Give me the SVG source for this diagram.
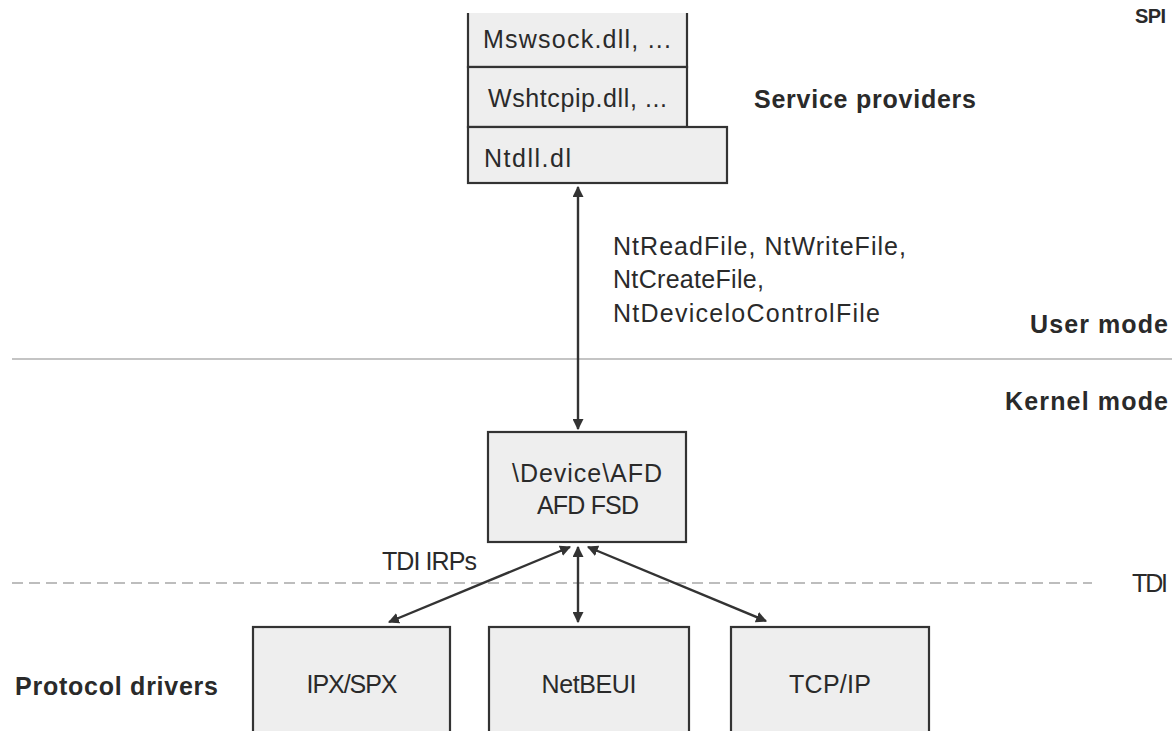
<svg xmlns="http://www.w3.org/2000/svg" width="1172" height="731" viewBox="0 0 1172 731">
<defs>
<style>
.box{fill:#eeeeee;stroke:#333333;stroke-width:2.2}
.t{font-family:"Liberation Sans",Arial,sans-serif;font-size:25px;fill:#2a2a2a}
.b{font-family:"Liberation Sans",Arial,sans-serif;font-size:25px;font-weight:bold;fill:#2a2a2a}
.c{text-anchor:middle}
.conn{stroke:#333333;stroke-width:2.4;fill:none;marker-start:url(#ah);marker-end:url(#ah)}
</style>
<marker id="ah" viewBox="0 0 10 10" refX="9" refY="5" markerWidth="11" markerHeight="11" markerUnits="userSpaceOnUse" orient="auto-start-reverse">
<path d="M0,0 L10,5 L0,10 z" fill="#333333"/>
</marker>
<clipPath id="crop"><rect x="0" y="13" width="1172" height="718"/></clipPath>
</defs>
<rect x="0" y="0" width="1172" height="731" fill="#ffffff"/>
<text class="b" x="1135" y="23" font-size="20" style="font-size:20px" textLength="31">SPI</text>
<g clip-path="url(#crop)">
<g id="mswsock">
<rect class="box" x="468" y="-10" width="219" height="77"/>
<text class="t" x="483" y="48" textLength="188">Mswsock.dll, ...</text>
</g>
<g id="wshtcpip">
<rect class="box" x="468" y="67" width="219" height="60"/>
<text class="t" x="488" y="107" textLength="179">Wshtcpip.dll, ...</text>
</g>
<g id="ntdll">
<rect class="box" x="468" y="127" width="259" height="56"/>
<text class="t" x="484" y="167" textLength="87">Ntdll.dl</text>
</g>
<text class="b" x="754" y="108" textLength="222">Service providers</text>
<text class="t" x="613" y="255" textLength="293">NtReadFile, NtWriteFile,</text>
<text class="t" x="613" y="288" textLength="151">NtCreateFile,</text>
<text class="t" x="613" y="322" textLength="267">NtDeviceloControlFile</text>
<text class="b" x="1030" y="333" textLength="138">User mode</text>
<line x1="12" y1="359" x2="1172" y2="359" stroke="#c4c4c4" stroke-width="2"/>
<text class="b" x="1005" y="410" textLength="163">Kernel mode</text>
<g id="afd">
<rect class="box" x="488" y="432" width="198" height="110"/>
<text class="t c" x="587" y="482" textLength="150">\Device\AFD</text>
<text class="t c" x="588" y="514" textLength="102">AFD FSD</text>
</g>
<text class="t" x="382" y="570" textLength="95">TDI IRPs</text>
<line x1="12" y1="583" x2="1092" y2="583" stroke="#bdbdbd" stroke-width="2" stroke-dasharray="11,6"/>
<text class="t" x="1132" y="592" textLength="36">TDI</text>
<g id="ipxspx">
<rect class="box" x="253" y="627" width="197" height="120"/>
<text class="t c" x="352" y="693" textLength="91">IPX/SPX</text>
</g>
<g id="netbeui">
<rect class="box" x="489" y="627" width="200" height="120"/>
<text class="t c" x="589" y="693" textLength="95">NetBEUI</text>
</g>
<g id="tcpip">
<rect class="box" x="731" y="627" width="198" height="120"/>
<text class="t c" x="830" y="693" textLength="82">TCP/IP</text>
</g>
<text class="b" x="15" y="695" textLength="203">Protocol drivers</text>
<g id="connectors">
<line class="conn" x1="578" y1="187" x2="578" y2="429"/>
<line class="conn" x1="570" y1="547" x2="389" y2="622"/>
<line class="conn" x1="578" y1="547" x2="578" y2="622"/>
<line class="conn" x1="588" y1="547" x2="766" y2="621"/>
</g>
</g>
</svg>
